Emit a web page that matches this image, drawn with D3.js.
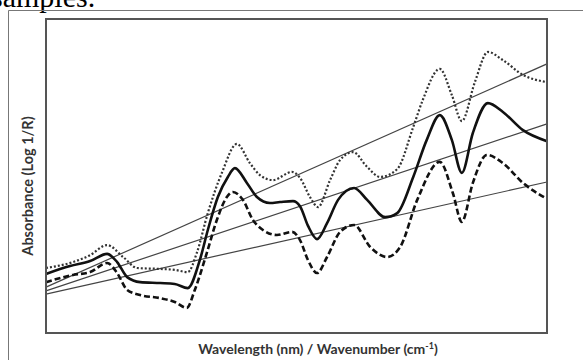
<!DOCTYPE html>
<html>
<head>
<meta charset="utf-8">
<script src="https://cdn.jsdelivr.net/npm/d3@7"></script>
<style>
    body { margin: 0; background: #fff; overflow: hidden; }
    #main { width: 585px; height: 360px; }
</style>
</head>
<body>
<div id="main"></div>
<script>
// spectra, [wavelength index, absorbance]
const dottedSpectrum = [
    [0, 20.7], [5.4, 22.6], [8.8, 24.8], [12.2, 28.0], [15.4, 24.2], [18.2, 20.7],
    [22.8, 20.4], [25.7, 20.1], [28.3, 19.4], [30.1, 25.5], [32.3, 38.2], [35.1, 51.0],
    [38.1, 60.2], [40.7, 54.1], [42.7, 50.3], [45.3, 48.7], [49.1, 51.3], [50.7, 49.4],
    [52.7, 43.3], [54.3, 40.1], [56.7, 48.7], [58.7, 55.1], [61.3, 57.6], [64.1, 52.9],
    [66.7, 49.7], [70.1, 52.2], [73.3, 65.6], [75.2, 74.2], [78.6, 84.1], [81.0, 75.8],
    [83.0, 67.5], [85.6, 79.9], [88.2, 89.5], [91.2, 86.9], [95.2, 82.2], [100, 79.9]
];
const solidSpectrum = [
    [0, 18.8], [4.8, 21.3], [8.8, 22.9], [12.2, 25.2], [14.2, 22.6], [16.2, 17.8],
    [18.8, 16.2], [22.8, 15.9], [25.7, 15.6], [28.3, 14.3], [30.7, 23.2], [32.3, 32.8],
    [34.3, 43.3], [36.3, 49.7], [37.7, 52.5], [40.1, 47.8], [42.1, 43.3], [44.7, 41.4],
    [46.7, 41.7], [49.3, 42.0], [50.7, 40.4], [52.3, 34.1], [54.1, 29.9], [56.1, 35.0],
    [58.3, 42.4], [61.5, 46.2], [64.1, 42.4], [67.7, 36.9], [70.1, 38.2], [73.3, 49.7],
    [76.0, 61.5], [78.6, 69.4], [81.0, 61.5], [83.0, 51.0], [85.2, 63.7], [88.2, 73.2],
    [91.2, 70.4], [95.2, 64.6], [100, 61.1]
];
const dashedSpectrum = [
    [0, 16.2], [5.4, 18.5], [8.8, 19.4], [12.2, 22.3], [14.2, 19.1], [16.2, 13.7],
    [18.8, 12.1], [22.8, 11.1], [25.7, 9.9], [28.1, 8.0], [29.7, 13.7], [32.1, 25.5],
    [34.1, 36.0], [36.1, 43.3], [37.3, 44.9], [39.3, 42.4], [41.3, 36.0], [43.3, 32.8],
    [46.1, 31.2], [49.1, 32.2], [50.7, 29.6], [52.3, 23.2], [54.1, 19.1], [56.1, 24.2],
    [58.7, 32.2], [61.5, 34.4], [64.7, 27.4], [68.1, 24.2], [70.7, 27.4], [74.1, 42.4],
    [78.6, 54.5], [81.2, 44.6], [83.0, 35.4], [85.2, 47.8], [88.0, 56.7], [91.2, 54.1],
    [95.2, 47.8], [100, 42.7]
];
// straight baselines, [start, end]
const baselines = [
    [[0, 14.6], [100, 85.7]],
    [[0, 13.4], [100, 66.6]],
    [[0, 12.4], [100, 48.1]]
];
const xLabel = "Wavelength (nm) / Wavenumber (cm";
const xLabelSup = "-1";
const yLabel = "Absorbance (Log 1/R)";

onload = () => {
    const svg = d3.select("#main").append("svg")
        .attr("width", 585).attr("height", 360);

    // bit of caption text from the page above, cut off
    svg.append("text")
        .attr("x", -9).attr("y", 7)
        .style("font-family", "'Liberation Serif', serif")
        .style("font-size", "30px")
        .text("samples.");

    // outer figure frame
    svg.append("path")
        .attr("d", "M8.5,380V10.5H583")
        .attr("fill", "none").attr("stroke", "#777").attr("stroke-width", 1);

    const left = 46, top = 19, right = 547, bottom = 333;

    const x = d3.scaleLinear().domain([0, 100]).range([left, right]);
    const y = d3.scaleLinear().domain([0, 100]).range([bottom, top]);

    const line = d3.line()
        .x((d) => x(d[0]))
        .y((d) => y(d[1]))
        .curve(d3.curveMonotoneX);

    const plot = svg.append("g");

    plot.selectAll(".baseline")
        .data(baselines)
        .enter()
        .append("path")
        .classed("baseline", true)
        .attr("d", d3.line().x((d) => x(d[0])).y((d) => y(d[1])))
        .attr("fill", "none")
        .attr("stroke", "#444")
        .attr("stroke-width", 1.2);

    plot.append("path")
        .attr("d", line(dottedSpectrum))
        .attr("fill", "none")
        .attr("stroke", "#333")
        .attr("stroke-width", 2.2)
        .attr("stroke-dasharray", "2 2");

    plot.append("path")
        .attr("d", line(dashedSpectrum))
        .attr("fill", "none")
        .attr("stroke", "#111")
        .attr("stroke-width", 2.6)
        .attr("stroke-dasharray", "6 3");

    plot.append("path")
        .attr("d", line(solidSpectrum))
        .attr("fill", "none")
        .attr("stroke", "#111")
        .attr("stroke-width", 2.6);

    // plot box
    svg.append("rect")
        .attr("x", left).attr("y", top)
        .attr("width", right - left).attr("height", bottom - top)
        .attr("fill", "none").attr("stroke", "#555").attr("stroke-width", 2);

    const lbl = svg.append("text")
        .attr("x", 318).attr("y", 354)
        .attr("text-anchor", "middle")
        .style("font-family", "Lato, sans-serif")
        .style("font-weight", "bold")
        .style("font-size", "14px")
        .attr("fill", "#333")
        .text(xLabel);
    lbl.append("tspan").attr("dy", -5).style("font-size", "9px").text(xLabelSup);
    lbl.append("tspan").attr("dy", 5).text(")");

    svg.append("text")
        .attr("transform", "translate(33, 186) rotate(-90)")
        .attr("text-anchor", "middle")
        .style("font-family", "Lato, sans-serif")
        .style("font-weight", "bold")
        .style("font-size", "14.5px")
        .attr("fill", "#333")
        .text(yLabel);
};
</script>
</body>
</html>
